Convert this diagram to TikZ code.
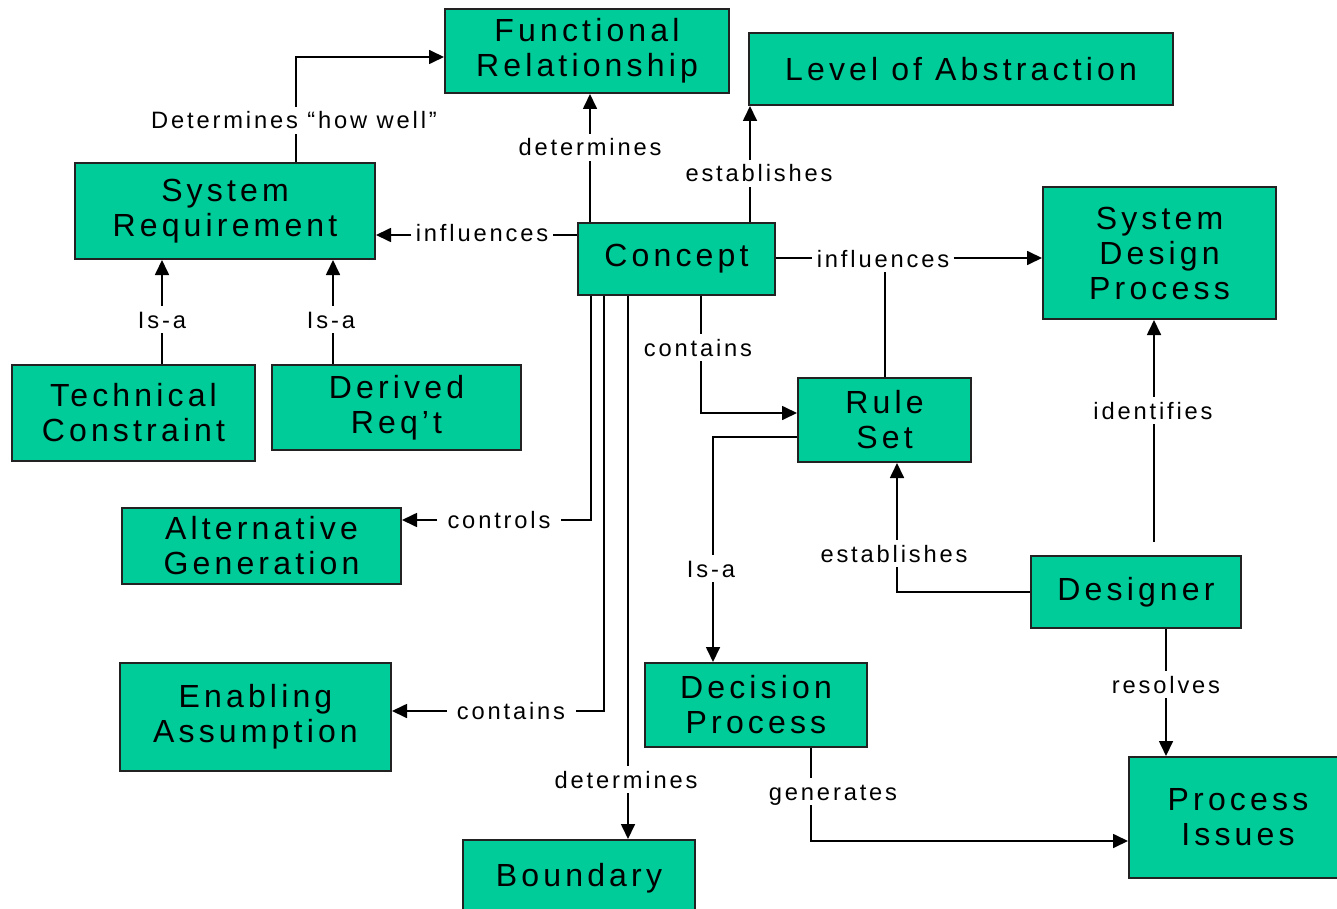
\documentclass[tikz,border=0pt]{standalone}
\usepackage{fontspec}
\setmainfont{Liberation Sans}
\newfontfamily\boxfont[LetterSpace=13]{Liberation Sans}
\newfontfamily\lblfont[LetterSpace=12]{Liberation Sans}
\usetikzlibrary{arrows.meta}
\definecolor{boxgreen}{RGB}{0,204,153}
\definecolor{boxline}{RGB}{34,34,34}
% box given by its corners (left, top, right, bottom) in pixel units
\newcommand\mkbox[6]{\node[cbox, minimum width={(#4-#2)*0.5pt}, minimum height={(#5-#3)*0.5pt}] (#1) at ({(#2+#4)/2},{(#3+#5)/2}) {#6};}
\begin{document}
\begin{tikzpicture}[x=0.5pt,y=-0.5pt,
  cbox/.style={draw=boxline, fill=boxgreen, line width=1pt, align=center, inner sep=0pt,
    font=\boxfont\fontsize{16}{17.5}\selectfont},
  lbl/.style={font=\lblfont\fontsize{11.85}{14}\selectfont, inner xsep=2pt, inner ysep=2.5pt,
    text height=8.5pt, text depth=0pt, anchor=base},
  wide/.style={inner xsep=5pt},
  ln/.style={line width=0.85pt},
  arr/.style={ln, -{Triangle[length=7.5pt,width=7pt]}}]
\useasboundingbox (0,0) rectangle (1337,909);
\fill[white] (0,0) rectangle (1337,909);
\clip (0,0) rectangle (1337,909);

% concept boxes
\mkbox{func}{445}{9}{729}{93}{Functional\\Relationship}
\mkbox{level}{749}{33}{1173}{105}{Level of Abstraction}
\mkbox{sysreq}{75}{163}{375}{259}{System\\Requirement}
\mkbox{concept}{578}{223}{775}{295}{Concept}
\mkbox{sdp}{1043}{187}{1276}{319}{System\\Design\\Process}
\mkbox{tech}{12}{365}{255}{461}{Technical\\Constraint}
\mkbox{derived}{272}{365}{521}{450}{Derived\\Req’t}
\mkbox{altgen}{122}{508}{401}{584}{Alternative\\Generation}
\mkbox{enab}{120}{663}{391}{771}{Enabling\\Assumption}
\mkbox{boundary}{463}{840}{695}{916}{Boundary}
\mkbox{rule}{798}{378}{971}{462}{Rule\\Set}
\mkbox{decision}{645}{663}{867}{747}{Decision\\Process}
\mkbox{designer}{1031}{556}{1241}{628}{Designer}
\mkbox{issues}{1129}{757}{1347}{878}{Process\\Issues}

% relation labels (placed on their baselines)
\node[lbl] (lhow)   at (294,129) {Determines “how well”};
\node[lbl] (ldet1)  at (590,156) {determines};
\node[lbl] (lest1)  at (759,182) {establishes};
\node[lbl] (linf1)  at (482,242) {influences};
\node[lbl] (linf2)  at (883,267) {influences};
\node[lbl] (lisa1)  at (162,328) {Is-a};
\node[lbl] (lisa2)  at (331,328) {Is-a};
\node[lbl] (lcon1)  at (698,356) {contains};
\node[lbl] (lident) at (1153,419) {identifies};
\node[lbl,wide] (lctrl)  at (499,528) {controls};
\node[lbl] (lest2)  at (894,562) {establishes};
\node[lbl] (lisa3)  at (711,577) {Is-a};
\node[lbl,wide] (lcon2)  at (511,719) {contains};
\node[lbl] (ldet2)  at (626,788) {determines};
\node[lbl] (lres)   at (1166,693) {resolves};
\node[lbl] (lgen)   at (833,800) {generates};

% routing points of the connectors
\coordinate (pHow)  at (296,57);
\coordinate (pDet1) at (590,0);
\coordinate (pEst1) at (750,0);
\coordinate (pInf1) at (0,235);
\coordinate (pInf2) at (0,258);
\coordinate (pRule) at (885,0);
\coordinate (pIsa1) at (162,0);
\coordinate (pIsa2) at (333,0);
\coordinate (pCon1) at (701,413);
\coordinate (pCtrl) at (591,520);
\coordinate (pCon2) at (604,711);
\coordinate (pDet2) at (628,0);
\coordinate (pIsa3) at (713,437);
\coordinate (pEst2) at (897,592);
\coordinate (pIdent) at (1154,0);
\coordinate (pRes)  at (1166,0);
\coordinate (pGen)  at (811,841);

% System Requirement determines how well the functional relationship works
\draw[ln]  (sysreq.north -| pHow) -- (lhow.south -| pHow);
\draw[arr] (lhow.north -| pHow) |- (func.west |- pHow);

% Concept upward
\draw[ln]  (concept.north -| pDet1) -- (ldet1.south -| pDet1);
\draw[arr] (ldet1.north -| pDet1) -- (func.south -| pDet1);
\draw[ln]  (concept.north -| pEst1) -- (lest1.south -| pEst1);
\draw[arr] (lest1.north -| pEst1) -- (level.south -| pEst1);

% Concept sideways
\draw[ln]  (concept.west |- pInf1) -- (linf1.east |- pInf1);
\draw[arr] (linf1.west |- pInf1) -- (sysreq.east |- pInf1);
\draw[ln]  (concept.east |- pInf2) -- (linf2.west |- pInf2);
\draw[arr] (linf2.east |- pInf2) -- (sdp.west |- pInf2);
\draw[ln]  (rule.north -| pRule) -- (linf2.south -| pRule);

% Is-a into System Requirement
\draw[ln]  (tech.north -| pIsa1) -- (lisa1.south -| pIsa1);
\draw[arr] (lisa1.north -| pIsa1) -- (sysreq.south -| pIsa1);
\draw[ln]  (derived.north -| pIsa2) -- (lisa2.south -| pIsa2);
\draw[arr] (lisa2.north -| pIsa2) -- (sysreq.south -| pIsa2);

% Concept downward
\draw[ln]  (concept.south -| pCon1) -- (lcon1.north -| pCon1);
\draw[arr] (lcon1.south -| pCon1) |- (rule.west |- pCon1);
\draw[ln]  (concept.south -| pCtrl) |- (lctrl.east |- pCtrl);
\draw[arr] (lctrl.west |- pCtrl) -- (altgen.east |- pCtrl);
\draw[ln]  (concept.south -| pCon2) |- (lcon2.east |- pCon2);
\draw[arr] (lcon2.west |- pCon2) -- (enab.east |- pCon2);
\draw[ln]  (concept.south -| pDet2) -- (ldet2.north -| pDet2);
\draw[arr] (ldet2.south -| pDet2) -- (boundary.north -| pDet2);

% Rule Set and Decision Process
\draw[ln]  (rule.west |- pIsa3) -| (lisa3.north -| pIsa3);
\draw[arr] (lisa3.south -| pIsa3) -- (decision.north -| pIsa3);
\draw[ln]  (decision.south -| pGen) -- (lgen.north -| pGen);
\draw[arr] (lgen.south -| pGen) |- (issues.west |- pGen);

% Designer
\draw[ln]  (designer.west |- pEst2) -| (lest2.south -| pEst2);
\draw[arr] (lest2.north -| pEst2) -- (rule.south -| pEst2);
\draw[ln, shorten <=6.5pt] (designer.north -| pIdent) -- (lident.south -| pIdent);
\draw[arr] (lident.north -| pIdent) -- (sdp.south -| pIdent);
\draw[ln]  (designer.south -| pRes) -- (lres.north -| pRes);
\draw[arr] (lres.south -| pRes) -- (issues.north -| pRes);
\end{tikzpicture}
\end{document}
